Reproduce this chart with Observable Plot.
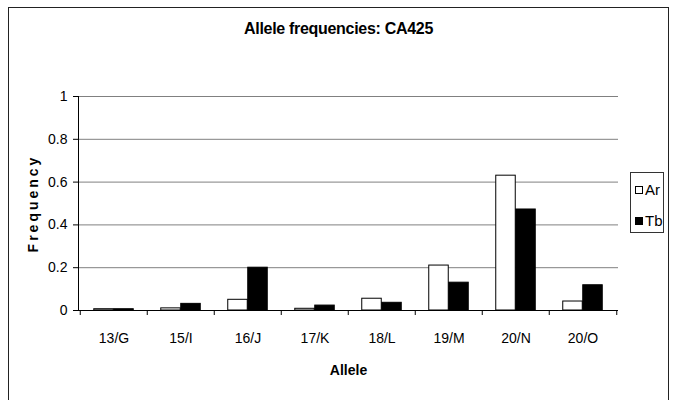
<!DOCTYPE html>
<html><head><meta charset="utf-8">
<script src="https://cdn.jsdelivr.net/npm/d3@7"></script>
<script src="https://cdn.jsdelivr.net/npm/@observablehq/plot@0.6"></script>
<style>
body{margin:0;background:#fff;}
#wrap{position:relative;width:674px;height:400px;overflow:hidden;font-family:"Liberation Sans Narrow","Arial Narrow","Liberation Sans",Arial,sans-serif;color:#000;}
#wrap svg{position:absolute;left:0;top:0;}
#frame{position:absolute;left:8px;top:7px;width:661px;height:430px;border:1.5px solid #222;box-sizing:border-box;}
#title{position:absolute;left:9px;width:659px;top:21px;text-align:center;font-weight:bold;font-size:16px;line-height:16px;letter-spacing:-0.3px;}
#legend{position:absolute;left:630px;top:172px;width:34px;height:61px;border:1px solid #333;box-sizing:border-box;font-size:15px;}
.item{position:absolute;left:4px;display:flex;align-items:center;gap:2px;line-height:15px;}
.sw{width:6px;height:6px;border:1px solid #000;display:inline-block;}
g[aria-label="x-axis label"] text{font-weight:bold;}
</style></head>
<body>
<div id="wrap">
  <div id="frame"></div>
  <div id="title">Allele frequencies: CA425</div>
  <div id="legend"></div>
</div>
<script>
const alleles = ["13/G","15/I","16/J","17/K","18/L","19/M","20/N","20/O"];
const seriesNames = ["Ar","Tb"];
const seriesColors = ["#ffffff","#000000"];
const arValues = [0.006,0.01,0.05,0.008,0.055,0.21,0.63,0.042];
const tbValues = [0.006,0.031,0.2,0.023,0.036,0.13,0.472,0.118];
const yTicks = [0,0.2,0.4,0.6,0.8,1];
const yLabel = "Frequency";
const xLabel = "Allele";

const arData = alleles.map((a,i)=>({allele:a,series:"Ar",value:arValues[i]}));
const tbData = alleles.map((a,i)=>({allele:a,series:"Tb",value:tbValues[i]}));

const W=674,H=400,mL=78,mR=56,mT=96,mB=90;
const band=(W-mL-mR)/alleles.length;
const barW=20;
const font='"Liberation Sans Narrow","Arial Narrow","Liberation Sans",Arial,sans-serif';

const chart = Plot.plot({
  width:W,height:H,marginLeft:mL,marginRight:mR,marginTop:mT,marginBottom:mB,
  style:{fontFamily:font,fontSize:"14px",color:"#000",background:"transparent",overflow:"visible"},
  x:{domain:alleles,padding:0},
  y:{domain:[0,1]},
  marks:[
    Plot.gridY(yTicks.slice(1),{stroke:"#808080",strokeOpacity:1}),
    Plot.barY(arData,{x:"allele",y:"value",fill:seriesColors[0],stroke:"#000",strokeWidth:1,insetLeft:band/2-barW,insetRight:band/2}),
    Plot.barY(tbData,{x:"allele",y:"value",fill:seriesColors[1],stroke:"#000",strokeWidth:1,insetLeft:band/2,insetRight:band/2-barW}),
    Plot.ruleY([0],{stroke:"#000"}),
    Plot.frame({anchor:"left",stroke:"#000"}),
    Plot.axisY(yTicks,{tickSize:5,tickPadding:6,tickFormat:d=>String(d),label:null,stroke:"#000"}),
    Plot.text([yLabel],{text:d=>d,frameAnchor:"left",textAnchor:"middle",lineAnchor:"middle",rotate:-90,dx:-45,fontSize:14,fontWeight:"bold"}),
    Plot.axisX({tickSize:0,tickPadding:23,label:xLabel,labelAnchor:"center",labelOffset:64}),
    Plot.axisX(alleles,{tickSize:5,dx:-band/2,tickFormat:()=>"",label:null,stroke:"#000"}),
    Plot.axisX([alleles[alleles.length-1]],{tickSize:5,dx:band/2,tickFormat:()=>"",label:null,stroke:"#000"})
  ]
});
document.getElementById("wrap").appendChild(chart);
d3.select(chart).selectAll("text").filter(function(){return this.textContent===yLabel;}).style("letter-spacing","3px");

const legend=document.getElementById("legend");
seriesNames.forEach((s,i)=>{
  const it=document.createElement("div");
  it.className="item";
  it.style.top=(9+i*31)+"px";
  it.innerHTML=`<span class="sw" style="background:${seriesColors[i]}"></span><span>${s}</span>`;
  legend.appendChild(it);
});
</script>
</body></html>
